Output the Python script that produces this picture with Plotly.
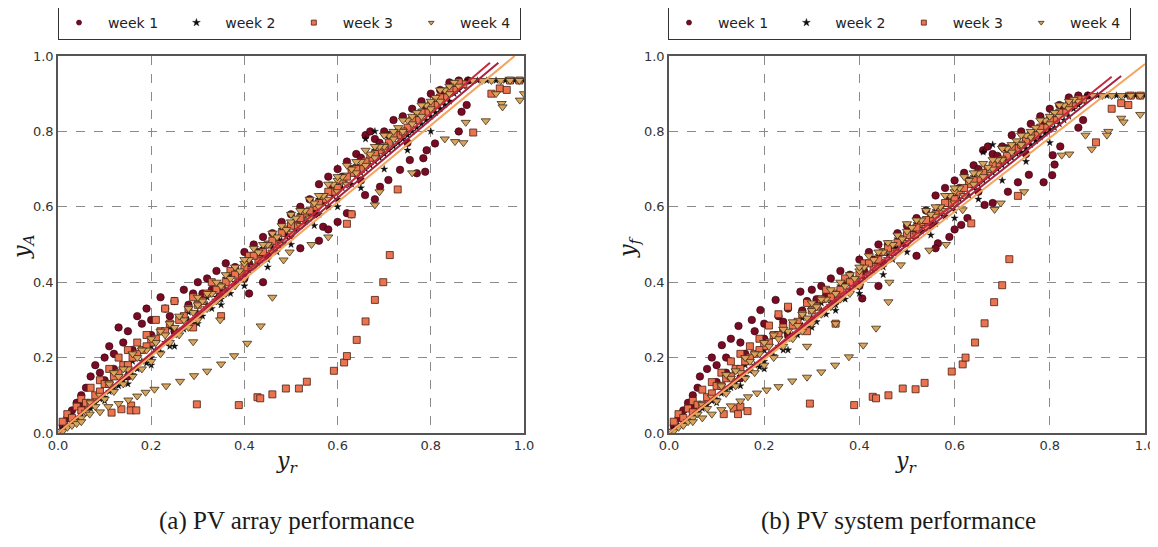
import plotly.graph_objects as go

# ---------------- Panel (a): y_A vs y_r ----------------
a_w1 = [(0.01,0.02),(0.02,0.04),(0.03,0.06),(0.04,0.08),(0.05,0.1),(0.06,0.12),(0.07,0.15),(0.08,0.18),(0.09,0.16),(0.1,0.2),
        (0.11,0.23),(0.12,0.21),(0.13,0.28),(0.14,0.24),(0.15,0.27),(0.17,0.31),(0.18,0.29),(0.19,0.33),(0.2,0.3),(0.22,0.36),
        (0.23,0.33),(0.25,0.35),(0.27,0.38),(0.29,0.37),(0.3,0.4),(0.32,0.41),(0.34,0.43),(0.36,0.45),(0.38,0.44),(0.4,0.48),
        (0.42,0.5),(0.44,0.52),(0.46,0.53),(0.48,0.56),(0.5,0.58),(0.52,0.6),(0.54,0.62),(0.56,0.66),(0.58,0.68),(0.6,0.7),
        (0.62,0.72),(0.64,0.74),(0.66,0.79),(0.67,0.8),(0.68,0.78),(0.7,0.8),(0.72,0.83),(0.74,0.84),(0.76,0.86),(0.78,0.88),
        (0.8,0.9),(0.82,0.91),(0.84,0.93),(0.86,0.935),(0.88,0.935),
        (0.05,0.07),(0.1,0.14),(0.12,0.17),(0.16,0.22),(0.2,0.26),(0.24,0.31),(0.28,0.34),(0.31,0.37),(0.33,0.38),(0.37,0.42),
        (0.41,0.45),(0.43,0.48),(0.47,0.51),(0.49,0.53),(0.51,0.56),(0.53,0.58),(0.57,0.62),(0.59,0.65),(0.61,0.68),(0.63,0.7),
        (0.65,0.73),(0.69,0.77),(0.71,0.79),(0.73,0.8),(0.77,0.84),(0.79,0.86),(0.81,0.88),(0.83,0.9),(0.85,0.92),
        (0.15,0.15),(0.25,0.27),(0.35,0.37),(0.45,0.47),(0.55,0.58),(0.65,0.67),(0.75,0.77),(0.4,0.41),(0.3,0.31),
        (0.41,0.37),(0.44,0.4),(0.52,0.49),(0.569,0.547),(0.58,0.54),(0.62,0.583),(0.63,0.58),(0.659,0.631),(0.68,0.62),
        (0.691,0.653),(0.709,0.671),(0.734,0.698),(0.755,0.724),(0.77,0.689),(0.788,0.693),(0.784,0.729),(0.791,0.75),
        (0.809,0.768),(0.866,0.852),(0.877,0.87),(0.6,0.56),(0.56,0.51),(0.86,0.8)]

a_w2 = [(0.01,0.01),(0.02,0.02),(0.03,0.03),(0.04,0.035),(0.05,0.05),(0.06,0.06),(0.07,0.065),(0.08,0.08),(0.09,0.09),(0.1,0.095),
        (0.11,0.11),(0.12,0.12),(0.13,0.125),(0.14,0.14),(0.15,0.16),(0.16,0.155),(0.17,0.17),(0.18,0.19),(0.19,0.185),(0.2,0.2),
        (0.21,0.22),(0.22,0.215),(0.23,0.24),(0.24,0.23),(0.25,0.26),(0.26,0.27),(0.27,0.275),(0.28,0.3),(0.29,0.29),(0.3,0.32),
        (0.31,0.31),(0.32,0.34),(0.33,0.33),(0.34,0.36),(0.35,0.355),(0.36,0.38),(0.37,0.37),(0.38,0.4),(0.39,0.41),(0.4,0.42),
        (0.41,0.43),(0.42,0.44),(0.43,0.45),(0.44,0.47),(0.45,0.46),(0.46,0.49),(0.47,0.48),(0.48,0.51),(0.49,0.52),(0.5,0.52),
        (0.51,0.54),(0.52,0.55),(0.53,0.56),(0.54,0.57),(0.55,0.59),(0.56,0.58),(0.57,0.61),(0.58,0.6),(0.59,0.63),(0.6,0.62),
        (0.61,0.65),(0.62,0.66),(0.63,0.66),(0.64,0.68),(0.65,0.69),(0.66,0.7),(0.67,0.71),(0.68,0.72),(0.69,0.73),(0.7,0.74),
        (0.71,0.75),(0.72,0.76),(0.73,0.77),(0.74,0.78),(0.75,0.79),(0.76,0.8),(0.77,0.81),(0.78,0.82),(0.79,0.83),(0.8,0.84),
        (0.81,0.85),(0.82,0.86),(0.83,0.87),(0.84,0.88),(0.85,0.9),(0.86,0.91),(0.87,0.92),(0.88,0.935),(0.9,0.935),(0.92,0.935),
        (0.94,0.935),(0.96,0.935),(0.98,0.935),(1.0,0.935),
        (0.12,0.15),(0.16,0.19),(0.2,0.23),(0.24,0.28),(0.28,0.32),(0.32,0.36),(0.36,0.41),(0.4,0.45),(0.44,0.49),(0.48,0.54),
        (0.52,0.58),(0.56,0.62),(0.6,0.66),(0.64,0.71),(0.68,0.75),(0.72,0.79),(0.76,0.83),(0.8,0.87),(0.84,0.91),
        (0.1,0.085),(0.2,0.18),(0.3,0.29),(0.4,0.39),(0.5,0.5),(0.6,0.6),(0.7,0.7),(0.8,0.8),(0.15,0.13),(0.25,0.23),
        (0.35,0.34),(0.45,0.44),(0.55,0.55),(0.65,0.65),(0.75,0.75),(0.66,0.78),(0.68,0.8)]

a_w3 = [(0.01,0.03),(0.02,0.05),(0.03,0.04),(0.04,0.07),(0.05,0.09),(0.06,0.08),(0.07,0.12),(0.08,0.1),(0.09,0.14),(0.1,0.13),
        (0.11,0.17),(0.12,0.15),(0.13,0.2),(0.14,0.18),(0.15,0.22),(0.16,0.2),(0.17,0.24),(0.18,0.22),(0.19,0.26),(0.2,0.24),
        (0.21,0.3),(0.22,0.27),(0.23,0.33),(0.24,0.29),(0.25,0.35),(0.27,0.31),(0.29,0.36),(0.31,0.35),(0.33,0.4),(0.35,0.39),
        (0.37,0.43),(0.39,0.42),(0.41,0.47),(0.43,0.46),(0.45,0.5),(0.47,0.5),(0.49,0.54),(0.51,0.55),(0.53,0.58),(0.55,0.6),
        (0.57,0.62),(0.59,0.64),(0.61,0.67),(0.63,0.69),(0.65,0.7),(0.67,0.73),(0.69,0.75),(0.71,0.77),(0.73,0.79),(0.75,0.81),
        (0.77,0.83),(0.79,0.85),(0.81,0.87),(0.83,0.89),(0.85,0.91),(0.87,0.925),
        (0.05,0.06),(0.07,0.08),(0.09,0.11),(0.11,0.13),(0.13,0.16),(0.15,0.18),(0.17,0.21),(0.19,0.23),(0.21,0.25),(0.23,0.27),
        (0.26,0.3),(0.28,0.33),(0.3,0.34),(0.32,0.37),(0.34,0.38),(0.36,0.4),(0.38,0.42),(0.4,0.44),(0.42,0.47),(0.44,0.48),
        (0.46,0.51),(0.48,0.53),(0.5,0.55),(0.52,0.57),(0.54,0.59),(0.56,0.61),(0.58,0.64),(0.6,0.65),(0.62,0.68),(0.64,0.7),
        (0.66,0.72),(0.68,0.74),(0.7,0.76),(0.72,0.79),(0.74,0.8),(0.76,0.83),(0.78,0.85),(0.8,0.87),(0.82,0.89),(0.84,0.91),(0.86,0.93),
        (0.115,0.054),(0.136,0.063),(0.157,0.073),(0.156,0.06),(0.168,0.06),(0.298,0.076),(0.388,0.074),(0.428,0.095),
        (0.434,0.092),(0.46,0.1025),(0.489,0.118),(0.517,0.118),(0.534,0.136),(0.592,0.165),(0.614,0.187),(0.62,0.204),
        (0.641,0.247),(0.66,0.296),(0.68,0.353),(0.698,0.4),(0.712,0.472),(0.35,0.31),(0.29,0.28),(0.63,0.58),(0.729,0.646),
        (0.891,0.797),(0.93,0.9),(0.948,0.914),(0.963,0.91),(0.99,0.935),(0.97,0.935),(0.62,0.555)]

a_w4 = [(0.01,0.005),(0.02,0.015),(0.03,0.02),(0.04,0.03),(0.05,0.04),(0.06,0.055),(0.08,0.07),(0.1,0.09),(0.12,0.11),(0.14,0.13),
        (0.16,0.15),(0.18,0.17),(0.2,0.19),(0.22,0.21),(0.24,0.24),(0.26,0.26),(0.28,0.28),(0.3,0.3),(0.32,0.33),(0.34,0.35),
        (0.36,0.37),(0.38,0.39),(0.4,0.41),(0.42,0.44),(0.44,0.46),(0.46,0.48),(0.48,0.5),(0.5,0.53),(0.52,0.55),(0.54,0.57),
        (0.56,0.6),(0.58,0.62),(0.6,0.64),(0.62,0.66),(0.64,0.69),(0.66,0.71),(0.68,0.73),(0.7,0.76),(0.72,0.78),(0.74,0.8),
        (0.76,0.82),(0.78,0.84),(0.8,0.86),(0.82,0.88),(0.84,0.9),(0.86,0.92),(0.89,0.935),(0.91,0.935),(0.93,0.935),(0.95,0.935),
        (0.97,0.935),(0.99,0.935),
        (0.25,0.28),(0.35,0.39),(0.45,0.5),(0.55,0.61),(0.65,0.72),(0.75,0.83),(0.3,0.34),(0.4,0.45),(0.5,0.56),(0.6,0.67),(0.7,0.79),
        (0.07,0.08),(0.09,0.1),(0.11,0.13),(0.13,0.15),(0.15,0.17),(0.17,0.2),(0.19,0.22),(0.21,0.24),(0.23,0.26),(0.27,0.3),
        (0.29,0.32),(0.31,0.35),(0.33,0.37),(0.37,0.41),(0.39,0.43),(0.41,0.46),(0.43,0.48),(0.47,0.52),(0.49,0.54),(0.51,0.57),
        (0.53,0.59),(0.57,0.63),(0.59,0.66),(0.61,0.68),(0.63,0.7),(0.67,0.74),(0.69,0.76),(0.71,0.79),(0.73,0.81),(0.77,0.85),
        (0.79,0.87),(0.81,0.89),(0.83,0.91),(0.85,0.93),
        (0.12,0.16),(0.16,0.21),(0.2,0.25),(0.24,0.29),(0.28,0.33),(0.32,0.37),(0.36,0.42),(0.4,0.46),(0.44,0.5),(0.48,0.55),
        (0.52,0.59),(0.56,0.63),(0.6,0.68),(0.64,0.72),(0.68,0.76),(0.72,0.8),(0.76,0.84),(0.8,0.88),(0.84,0.92),(0.14,0.17),
        (0.18,0.22),(0.22,0.27),(0.26,0.31),(0.3,0.36),(0.34,0.4),(0.38,0.44),(0.42,0.49),(0.46,0.53),(0.5,0.58),(0.54,0.62),
        (0.58,0.66),(0.62,0.71),(0.66,0.75),(0.7,0.79),(0.74,0.83),(0.78,0.87),(0.82,0.91),
        (0.04,0.025),(0.05,0.03),(0.068,0.05),(0.09,0.056),(0.108,0.07),(0.13,0.078),(0.151,0.0875),(0.17,0.098),(0.188,0.108),
        (0.207,0.116),(0.232,0.125),(0.262,0.137),(0.292,0.152),(0.32,0.164),(0.35,0.183),(0.378,0.205),(0.406,0.238),
        (0.435,0.284),(0.46,0.36),(0.484,0.459),(0.497,0.48),(0.544,0.5),(0.58,0.52),(0.348,0.30),(0.29,0.242),
        (0.952,0.874),(0.954,0.865),(0.991,0.883),(0.918,0.828),(0.875,0.824),(0.852,0.773),(0.83,0.78),(0.87,0.77),
        (0.68,0.605),(0.69,0.64),(0.76,0.69),(1.0,0.9),(0.94,0.9)]

# fitted lines, panel (a)
a_fit1_x = [0.0, 0.927]; a_fit1_y = [0.0, 0.982]
a_fit2_x = [0.0, 0.945]; a_fit2_y = [0.0, 0.982]
a_fit3_x = [0.0, 0.980]; a_fit3_y = [0.0, 1.0]

# ---------------- Panel (b): y_f vs y_r ----------------
b_w1 = [(0.01,0.02),(0.02,0.04),(0.03,0.06),(0.04,0.08),(0.05,0.1),(0.06,0.12),(0.065,0.15),(0.08,0.17),(0.09,0.2),(0.1,0.18),
        (0.111,0.233),(0.12,0.2),(0.13,0.25),(0.146,0.284),(0.15,0.24),(0.174,0.3),(0.18,0.27),(0.192,0.326),(0.2,0.29),
        (0.224,0.353),(0.23,0.31),(0.25,0.33),(0.276,0.375),(0.29,0.35),(0.3,0.38),(0.32,0.39),(0.34,0.41),(0.36,0.43),
        (0.38,0.42),(0.4,0.46),(0.42,0.48),(0.44,0.5),(0.46,0.5),(0.48,0.53),(0.5,0.55),(0.52,0.57),(0.54,0.59),(0.56,0.63),
        (0.58,0.65),(0.6,0.67),(0.62,0.69),(0.64,0.71),(0.66,0.75),(0.67,0.76),(0.68,0.74),(0.7,0.76),(0.72,0.79),(0.74,0.8),
        (0.76,0.82),(0.78,0.84),(0.8,0.86),(0.82,0.87),(0.84,0.89),(0.86,0.895),(0.88,0.895),
        (0.05,0.065),(0.1,0.135),(0.12,0.16),(0.16,0.21),(0.2,0.25),(0.24,0.295),(0.28,0.325),(0.31,0.355),(0.33,0.365),(0.37,0.4),
        (0.41,0.43),(0.43,0.46),(0.47,0.49),(0.49,0.505),(0.51,0.535),(0.53,0.555),(0.57,0.59),(0.59,0.62),(0.61,0.65),(0.63,0.67),
        (0.65,0.7),(0.69,0.735),(0.71,0.755),(0.73,0.765),(0.77,0.8),(0.79,0.82),(0.81,0.84),(0.83,0.86),(0.85,0.88),
        (0.15,0.145),(0.25,0.26),(0.35,0.35),(0.45,0.45),(0.55,0.55),(0.65,0.64),(0.75,0.74),(0.4,0.39),(0.3,0.3),
        (0.406,0.357),(0.44,0.39),(0.52,0.47),(0.565,0.503),(0.589,0.52),(0.614,0.552),(0.627,0.57),(0.663,0.605),(0.68,0.61),
        (0.712,0.64),(0.733,0.665),(0.756,0.685),(0.787,0.665),(0.805,0.684),(0.81,0.712),(0.806,0.737),(0.822,0.76),
        (0.86,0.81),(0.87,0.83),(0.6,0.54),(0.56,0.49)]

b_w2 = [(0.01,0.01),(0.02,0.02),(0.03,0.03),(0.04,0.035),(0.05,0.045),(0.06,0.055),(0.07,0.065),(0.08,0.075),(0.09,0.085),(0.1,0.09),
        (0.11,0.105),(0.12,0.115),(0.13,0.12),(0.14,0.135),(0.15,0.15),(0.16,0.15),(0.17,0.165),(0.18,0.18),(0.19,0.175),(0.2,0.19),
        (0.21,0.21),(0.22,0.205),(0.23,0.23),(0.24,0.22),(0.25,0.25),(0.26,0.26),(0.27,0.26),(0.28,0.285),(0.29,0.28),(0.3,0.305),
        (0.31,0.295),(0.32,0.325),(0.33,0.315),(0.34,0.345),(0.35,0.34),(0.36,0.36),(0.37,0.355),(0.38,0.38),(0.39,0.39),(0.4,0.4),
        (0.41,0.41),(0.42,0.42),(0.43,0.43),(0.44,0.45),(0.45,0.44),(0.46,0.47),(0.47,0.46),(0.48,0.49),(0.49,0.5),(0.5,0.5),
        (0.51,0.52),(0.52,0.525),(0.53,0.535),(0.54,0.545),(0.55,0.565),(0.56,0.555),(0.57,0.58),(0.58,0.575),(0.59,0.6),(0.6,0.59),
        (0.61,0.62),(0.62,0.63),(0.63,0.63),(0.64,0.65),(0.65,0.66),(0.66,0.67),(0.67,0.68),(0.68,0.69),(0.69,0.7),(0.7,0.71),
        (0.71,0.72),(0.72,0.73),(0.73,0.74),(0.74,0.745),(0.75,0.755),(0.76,0.765),(0.77,0.775),(0.78,0.785),(0.79,0.795),(0.8,0.805),
        (0.81,0.81),(0.82,0.82),(0.83,0.83),(0.84,0.84),(0.85,0.86),(0.86,0.87),(0.87,0.88),(0.88,0.895),(0.9,0.895),(0.92,0.895),
        (0.94,0.895),(0.96,0.895),(0.98,0.895),(1.0,0.895),
        (0.12,0.145),(0.16,0.18),(0.2,0.22),(0.24,0.27),(0.28,0.305),(0.32,0.345),(0.36,0.39),(0.4,0.43),(0.44,0.47),(0.48,0.515),
        (0.52,0.555),(0.56,0.59),(0.6,0.63),(0.64,0.68),(0.68,0.715),(0.72,0.755),(0.76,0.79),(0.8,0.83),(0.84,0.87),
        (0.1,0.08),(0.2,0.17),(0.3,0.28),(0.4,0.37),(0.5,0.48),(0.6,0.57),(0.7,0.67),(0.8,0.77),(0.15,0.125),(0.25,0.22),
        (0.35,0.325),(0.45,0.42),(0.55,0.525),(0.65,0.62),(0.75,0.72),(0.66,0.745),(0.68,0.765)]

b_w3 = [(0.01,0.03),(0.02,0.05),(0.03,0.04),(0.04,0.065),(0.05,0.085),(0.06,0.075),(0.07,0.115),(0.08,0.095),(0.09,0.135),(0.1,0.125),
        (0.11,0.16),(0.12,0.145),(0.13,0.19),(0.14,0.17),(0.15,0.21),(0.16,0.19),(0.17,0.23),(0.18,0.21),(0.19,0.25),(0.2,0.23),
        (0.21,0.285),(0.22,0.26),(0.23,0.315),(0.24,0.28),(0.25,0.335),(0.27,0.295),(0.29,0.345),(0.31,0.335),(0.33,0.38),(0.35,0.37),
        (0.37,0.41),(0.39,0.4),(0.41,0.45),(0.43,0.44),(0.45,0.48),(0.47,0.48),(0.49,0.515),(0.51,0.525),(0.53,0.555),(0.55,0.57),
        (0.57,0.59),(0.59,0.61),(0.61,0.64),(0.63,0.66),(0.65,0.67),(0.67,0.7),(0.69,0.715),(0.71,0.735),(0.73,0.755),(0.75,0.775),
        (0.77,0.79),(0.79,0.81),(0.81,0.83),(0.83,0.85),(0.85,0.87),(0.87,0.885),
        (0.05,0.055),(0.07,0.075),(0.09,0.105),(0.11,0.125),(0.13,0.15),(0.15,0.17),(0.17,0.2),(0.19,0.22),(0.21,0.24),(0.23,0.26),
        (0.26,0.285),(0.28,0.315),(0.3,0.325),(0.32,0.355),(0.34,0.36),(0.36,0.38),(0.38,0.4),(0.4,0.42),(0.42,0.45),(0.44,0.46),
        (0.46,0.49),(0.48,0.505),(0.5,0.525),(0.52,0.545),(0.54,0.565),(0.56,0.58),(0.58,0.61),(0.6,0.62),(0.62,0.65),(0.64,0.67),
        (0.66,0.69),(0.68,0.71),(0.7,0.725),(0.72,0.755),(0.74,0.765),(0.76,0.79),(0.78,0.81),(0.8,0.83),(0.82,0.85),(0.84,0.87),(0.86,0.885),
        (0.115,0.05),(0.136,0.065),(0.15,0.07),(0.145,0.05),(0.165,0.058),(0.296,0.078),(0.389,0.074),(0.428,0.096),(0.435,0.092),
        (0.461,0.1),(0.491,0.118),(0.518,0.116),(0.537,0.133),(0.594,0.163),(0.617,0.182),(0.623,0.2),(0.643,0.24),(0.663,0.291),
        (0.683,0.347),(0.70,0.392),(0.715,0.461),(0.35,0.29),(0.29,0.27),(0.635,0.556),(0.733,0.629),(0.897,0.771),(0.93,0.86),
        (0.95,0.875),(0.965,0.87),(0.99,0.895),(0.97,0.895)]

b_w4 = [(0.01,0.005),(0.02,0.015),(0.03,0.02),(0.04,0.03),(0.05,0.04),(0.06,0.05),(0.08,0.065),(0.1,0.085),(0.12,0.105),(0.14,0.125),
        (0.16,0.145),(0.18,0.16),(0.2,0.18),(0.22,0.2),(0.24,0.23),(0.26,0.25),(0.28,0.27),(0.3,0.29),(0.32,0.315),(0.34,0.335),
        (0.36,0.355),(0.38,0.37),(0.4,0.39),(0.42,0.42),(0.44,0.44),(0.46,0.46),(0.48,0.48),(0.5,0.505),(0.52,0.525),(0.54,0.545),
        (0.56,0.575),(0.58,0.59),(0.6,0.61),(0.62,0.63),(0.64,0.66),(0.66,0.68),(0.68,0.7),(0.7,0.725),(0.72,0.745),(0.74,0.765),
        (0.76,0.785),(0.78,0.8),(0.8,0.82),(0.82,0.84),(0.84,0.86),(0.86,0.88),(0.89,0.895),(0.91,0.895),(0.93,0.895),(0.95,0.895),
        (0.97,0.895),(0.99,0.895),
        (0.25,0.27),(0.35,0.37),(0.45,0.48),(0.55,0.58),(0.65,0.69),(0.75,0.79),(0.3,0.325),(0.4,0.43),(0.5,0.535),(0.6,0.64),(0.7,0.755),
        (0.07,0.075),(0.09,0.095),(0.11,0.125),(0.13,0.145),(0.15,0.16),(0.17,0.19),(0.19,0.21),(0.21,0.23),(0.23,0.25),(0.27,0.285),
        (0.29,0.305),(0.31,0.335),(0.33,0.355),(0.37,0.39),(0.39,0.41),(0.41,0.44),(0.43,0.46),(0.47,0.5),(0.49,0.515),(0.51,0.545),
        (0.53,0.565),(0.57,0.6),(0.59,0.63),(0.61,0.65),(0.63,0.67),(0.67,0.705),(0.69,0.725),(0.71,0.755),(0.73,0.775),(0.77,0.81),
        (0.79,0.83),(0.81,0.85),(0.83,0.87),(0.85,0.885),
        (0.12,0.155),(0.16,0.2),(0.2,0.24),(0.24,0.275),(0.28,0.315),(0.32,0.355),(0.36,0.4),(0.4,0.44),(0.44,0.48),(0.48,0.525),
        (0.52,0.565),(0.56,0.6),(0.6,0.65),(0.64,0.69),(0.68,0.725),(0.72,0.765),(0.76,0.8),(0.8,0.84),(0.84,0.88),(0.14,0.165),
        (0.18,0.21),(0.22,0.26),(0.26,0.295),(0.3,0.345),(0.34,0.38),(0.38,0.42),(0.42,0.47),(0.46,0.505),(0.5,0.555),(0.54,0.59),
        (0.58,0.63),(0.62,0.68),(0.66,0.715),(0.7,0.755),(0.74,0.79),(0.78,0.83),(0.82,0.87),
        (0.05,0.03),(0.07,0.04),(0.09,0.05),(0.11,0.062),(0.13,0.072),(0.15,0.085),(0.166,0.096),(0.185,0.106),(0.205,0.114),
        (0.23,0.123),(0.259,0.138),(0.29,0.148),(0.32,0.162),(0.349,0.18),(0.378,0.202),(0.408,0.233),(0.435,0.278),(0.461,0.348),
        (0.463,0.4),(0.487,0.446),(0.547,0.485),(0.582,0.5),(0.617,0.592),(0.684,0.593),(0.697,0.61),(0.746,0.64),(0.825,0.737),
        (0.841,0.74),(0.888,0.753),(0.923,0.8),(0.95,0.835),(0.955,0.825),(0.99,0.845),(0.92,0.79),(0.875,0.79),(0.35,0.29),(0.29,0.23)]

b_fit1_x = [0.0, 0.930]; b_fit1_y = [0.0, 0.945]
b_fit2_x = [0.0, 0.950]; b_fit2_y = [0.0, 0.947]
b_fit3_x = [0.0, 1.000]; b_fit3_y = [0.0, 0.979]

series_names = ["week 1", "week 2", "week 3", "week 4"]
tick_vals = [0.0, 0.2, 0.4, 0.6, 0.8, 1.0]
tick_text = ["0.0", "0.2", "0.4", "0.6", "0.8", "1.0"]
captions = ["(a) PV array performance", "(b) PV system performance"]

# ---------------- styles ----------------
styles = [
    dict(symbol="circle", color="#7a0b25", size=7.5, line=dict(color="#2a0008", width=0.6)),
    dict(symbol="star", color="#111111", size=5.5, line=dict(color="#000000", width=0.3)),
    dict(symbol="square", color="#ea7450", size=7, line=dict(color="#4a1e10", width=0.8)),
    dict(symbol="triangle-down", color="#d9a45e", size=8, line=dict(color="#3e2e18", width=0.8)),
]
fit_colors = ["#c8283c", "#a8203e", "#f3a45f"]

NB = "\u00a0"

fig = go.Figure()

def add_panel(xa, ya, weeks, fits, legend):
    for pts, st in zip(weeks, styles):
        fig.add_trace(go.Scatter(
            x=[p[0] for p in pts], y=[p[1] for p in pts], mode="markers",
            marker=st, xaxis=xa, yaxis=ya, showlegend=False, hoverinfo="skip"))
    for (fx, fy), c in zip(fits, fit_colors):
        fig.add_trace(go.Scatter(x=fx, y=fy, mode="lines", line=dict(color=c, width=2),
                                 xaxis=xa, yaxis=ya, showlegend=False, hoverinfo="skip"))
    for i, (name, st) in enumerate(zip(series_names, styles)):
        small = dict(st)
        small["size"] = 5 if st["symbol"] != "star" else 6
        label = NB * 2 + name + (NB * 3 if i < len(series_names) - 1 else NB)
        fig.add_trace(go.Scatter(x=[None], y=[None], mode="markers", marker=small,
                                 name=label,
                                 xaxis=xa, yaxis=ya, showlegend=True, legend=legend))

add_panel("x", "y", [a_w1, a_w2, a_w3, a_w4],
          [(a_fit1_x, a_fit1_y), (a_fit2_x, a_fit2_y), (a_fit3_x, a_fit3_y)], "legend")
add_panel("x2", "y2", [b_w1, b_w2, b_w3, b_w4],
          [(b_fit1_x, b_fit1_y), (b_fit2_x, b_fit2_y), (b_fit3_x, b_fit3_y)], "legend2")

W, H = 1158, 547
OFF = 8  # page body margin
def px(v): return (v - OFF) / W
def py(v): return 1 - (v - OFF) / H

axis_common = dict(range=[0, 1], tickvals=tick_vals, ticktext=tick_text, showgrid=True,
                   gridcolor="#8a8a8a", griddash="dash", gridwidth=1, zeroline=False,
                   showline=True, mirror=True, linecolor="#555555", linewidth=1.5,
                   ticks="", tickfont=dict(family="DejaVu Sans", size=13, color="#333333"))

legend_common = dict(orientation="h", yanchor="top", xanchor="left",
                     bordercolor="#333333", borderwidth=1, bgcolor="white",
                     font=dict(family="DejaVu Sans", size=14, color="#222222"),
                     tracegroupgap=0, itemwidth=30)

def ann(text, x, y, size, family, angle=0):
    return dict(text=text, x=px(x), y=py(y), xref="paper", yref="paper", xanchor="center",
                yanchor="middle", showarrow=False, textangle=angle,
                font=dict(family=family, size=size, color="#1a1a1a"))

fig.update_layout(
    width=W, height=H, margin=dict(l=0, r=0, t=0, b=0, autoexpand=False),
    paper_bgcolor="white", plot_bgcolor="white",
    xaxis=dict(domain=[px(58), px(524)], anchor="y", **axis_common),
    yaxis=dict(domain=[py(433), py(56)], anchor="x", **axis_common),
    xaxis2=dict(domain=[px(669), px(1145)], anchor="y2", **axis_common),
    yaxis2=dict(domain=[py(433), py(56)], anchor="x2", **axis_common),
    legend=dict(x=px(58), y=py(6), **legend_common),
    legend2=dict(x=px(668), y=py(6), **legend_common),
    annotations=[
        ann("<i>y<sub>A</sub></i>", 24, 247, 22, "DejaVu Serif", -90),
        ann("<i>y<sub>r</sub></i>", 287, 462, 22, "DejaVu Serif"),
        ann("<i>y<sub>f</sub></i>", 630, 247, 22, "DejaVu Serif", -90),
        ann("<i>y<sub>r</sub></i>", 906, 462, 22, "DejaVu Serif"),
        ann(captions[0], 287, 521, 25, "Liberation Serif"),
        ann(captions[1], 898, 521, 25, "Liberation Serif"),
    ],
)

fig.write_html("out.html")
